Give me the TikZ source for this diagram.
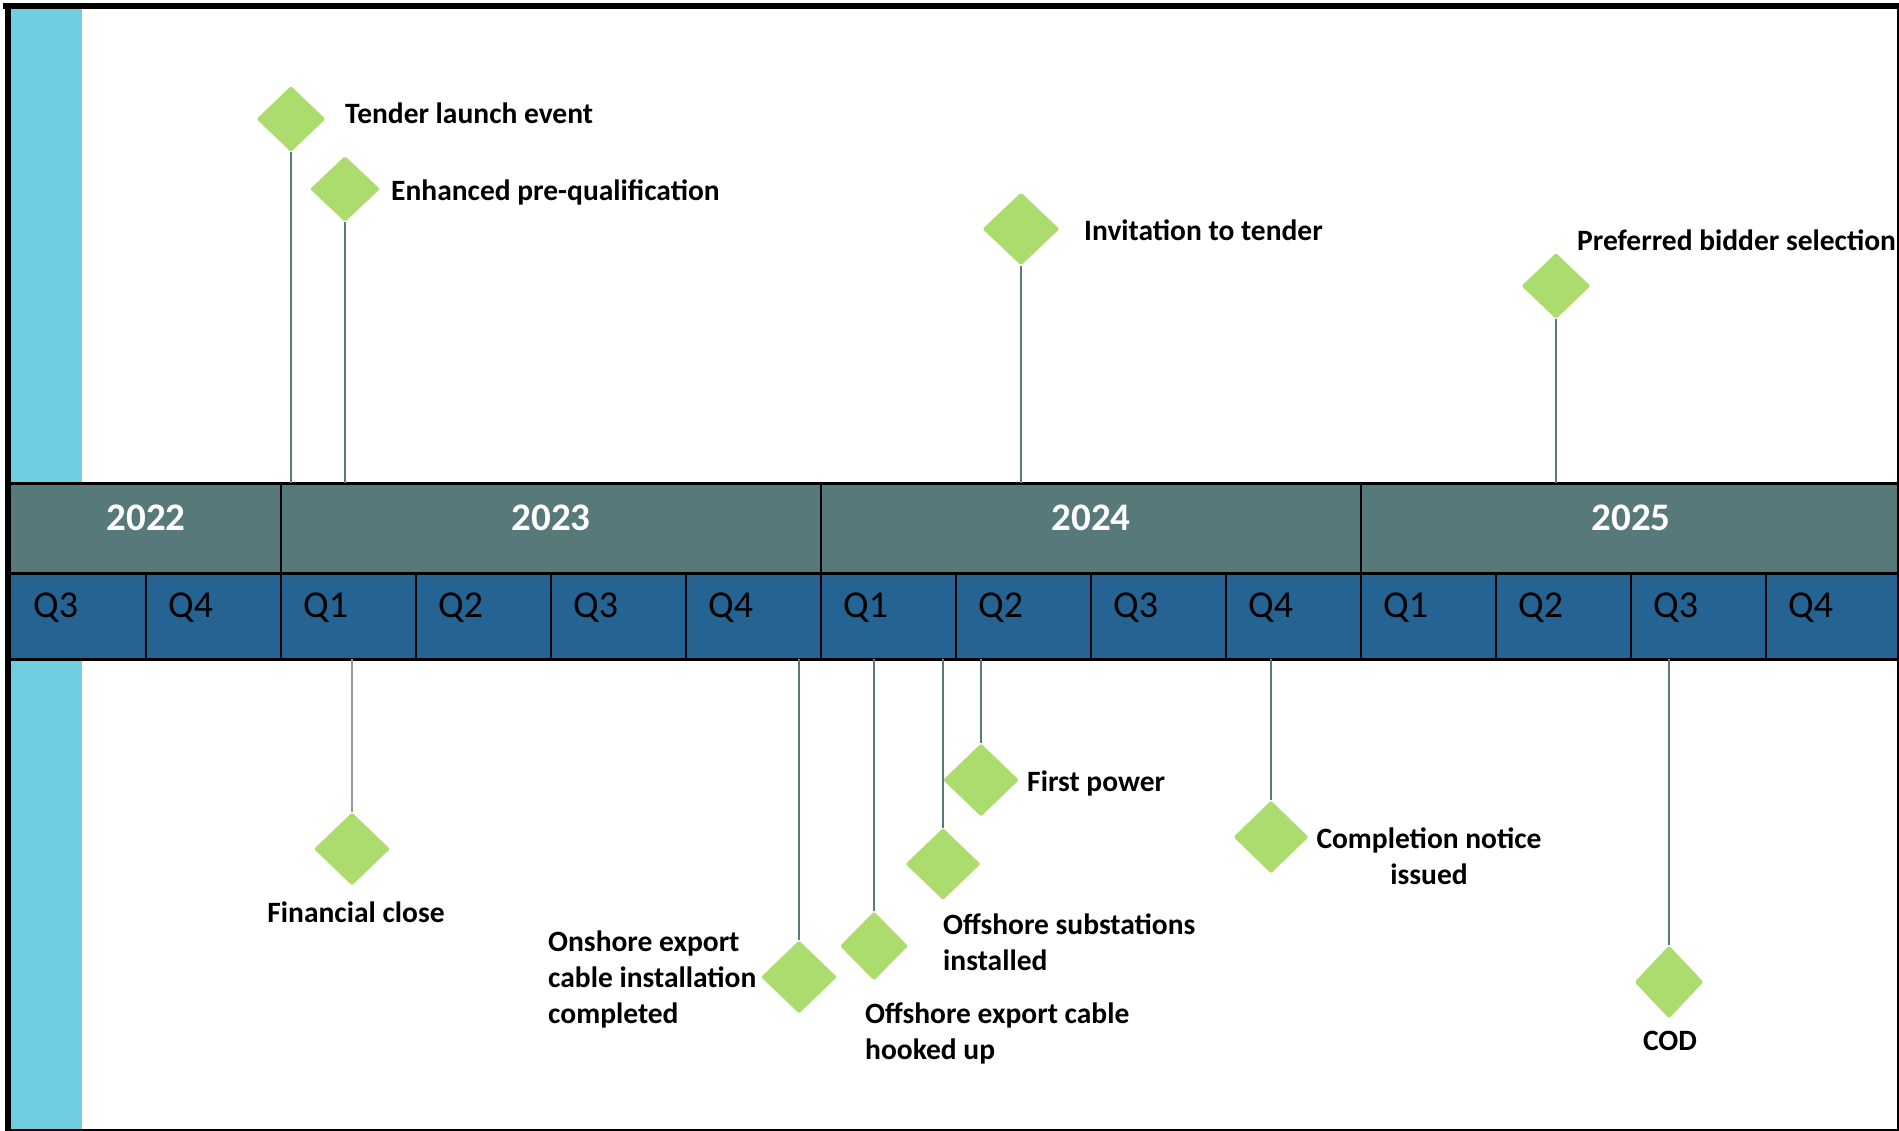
\documentclass[tikz,border=0pt]{standalone}
\usepackage{fontspec}
\setmainfont{Carlito}
\usetikzlibrary{calc,shapes.geometric}
\definecolor{stripcyan}{RGB}{111,206,224}
\definecolor{yearband}{RGB}{88,121,121}
\definecolor{quarterband}{RGB}{37,99,147}
\definecolor{milegreen}{RGB}{173,220,110}
\definecolor{stemteal}{RGB}{90,122,126}
\def\drawstem{\draw[color=stemteal, line width=2pt]}
\def\milenode{\node[diamond,fill=milegreen,inner sep=0pt,rounded corners=2pt]}
\def\lblfont{\fontsize{29.5}{36}\selectfont\bfseries}

\begin{document}
\begin{tikzpicture}[x=1pt,y=-1pt,
  lbl/.style={font=\lblfont, inner sep=0pt},
  qlbl/.style={font=\fontsize{38}{44}\selectfont, inner sep=0pt, anchor=base west},
  ylbl/.style={font=\fontsize{39}{46}\selectfont\bfseries, text=white, inner sep=0pt, anchor=base}]
\useasboundingbox (0,0) rectangle (1899,1131);
\fill[white] (0,0) rectangle (1899,1131);

% ---------- cyan strip on the left
\fill[stripcyan] (9,9) rectangle (82,483);
\fill[stripcyan] (9,659) rectangle (82,1131);

% ---------- year band and quarter band
\coordinate (bandtop) at (0,483);
\coordinate (bandmid) at (0,573);
\coordinate (bandbot) at (0,659);
\fill[yearband] (9,483) rectangle (1899,573);
\fill[quarterband] (9,573) rectangle (1899,659);
\node[ylbl] (y2022) at (146,530) {2022};
\foreach \yr [count=\i from 0] in {2023,2024,2025} {
  \node[ylbl] (y\yr) at (551+540*\i,530) {\yr};
  \draw[line width=2.5pt] (281+540*\i,483) -- (281+540*\i,573);
}
\foreach \q [count=\i from 0] in {Q3,Q4,Q1,Q2,Q3,Q4,Q1,Q2,Q3,Q4,Q1,Q2,Q3,Q4} {
  \node[qlbl] (q\i) at (33+135*\i,617) {\q};
}
\foreach \i in {1,...,13} \draw[line width=2.5pt] (11+135*\i,573) -- (11+135*\i,659);
\draw[line width=3pt] (9,483) -- (1899,483);
\draw[line width=3pt] (9,573) -- (1899,573);
\draw[line width=3pt] (9,659) -- (1899,659);

% ---------- milestones above the bands
\milenode[minimum width=69pt, minimum height=66pt] (tender) at (291,119) {};
\node[lbl, anchor=base west] (tenderlbl) at (345,124) {Tender launch event};
\drawstem (tender.south) -- (tender.south |- bandtop);

\milenode[minimum width=70pt, minimum height=66pt] (prequal) at (345,189) {};
\node[lbl, anchor=base west] (prequallbl) at (391,201) {Enhanced pre-qualification};
\drawstem (prequal.south) -- (prequal.south |- bandtop);

\milenode[minimum width=77pt, minimum height=73pt] (itt) at (1021,229) {};
\node[lbl, anchor=base west] (ittlbl) at (1084,241) {Invitation to tender};
\drawstem (itt.south) -- (itt.south |- bandtop);

\milenode[minimum width=69pt, minimum height=66pt] (bidder) at (1556,286) {};
\node[lbl, anchor=base west] (bidderlbl) at (1577,251) {Preferred bidder selection};
\drawstem (bidder.south) -- (bidder.south |- bandtop);

% ---------- milestones below the bands
\milenode[minimum width=76pt, minimum height=73pt] (finclose) at (352,849) {};
\node[lbl, anchor=base] (fincloselbl) at (356,922) {Financial close};
\draw[color=gray!80, line width=1.5pt] (finclose.north) -- (finclose.north |- bandbot);

\milenode[minimum width=76pt, minimum height=73pt] (onshore) at (799,977) {};
\node[lbl, anchor=west, align=left] (onshorelbl) at (548,979) {Onshore export\\cable installation\\completed};
\drawstem (onshore.north) -- (onshore.north |- bandbot);

\milenode[minimum width=68pt, minimum height=69pt] (hooked) at (874,946) {};
\node[lbl, anchor=west, align=left] (hookedlbl) at (865,1033) {Offshore export cable\\hooked up};
\drawstem (hooked.north) -- (hooked.north |- bandbot);

\milenode[minimum width=75pt, minimum height=72pt] (substn) at (943,864) {};
\node[lbl, anchor=west, align=left] (substnlbl) at (943,942) {Offshore substations\\installed};
\drawstem (substn.north) -- (substn.north |- bandbot);

\milenode[minimum width=76pt, minimum height=73pt] (firstpow) at (981,780) {};
\node[lbl, anchor=base west] (firstpowlbl) at (1027,791) {First power};
\drawstem (firstpow.north) -- (firstpow.north |- bandbot);

\milenode[minimum width=75pt, minimum height=73pt] (complete) at (1271,837) {};
\node[lbl, align=center] (completelbl) at (1429,856) {Completion notice\\issued};
\drawstem (complete.north) -- (complete.north |- bandbot);

\milenode[minimum width=69pt, minimum height=73pt] (cod) at (1669,982) {};
\node[lbl, anchor=base] (codlbl) at (1670,1050) {COD};
\drawstem (cod.north) -- (cod.north |- bandbot);

% ---------- outer frame
\draw[line width=6pt] (3,6) -- (1899,6);
\draw[line width=6pt] (8,3) -- (8,1131);
\draw[line width=2.5pt] (1898,6) -- (1898,1131);
\draw[line width=2pt] (8,1130) -- (1899,1130);
\end{tikzpicture}
\end{document}
